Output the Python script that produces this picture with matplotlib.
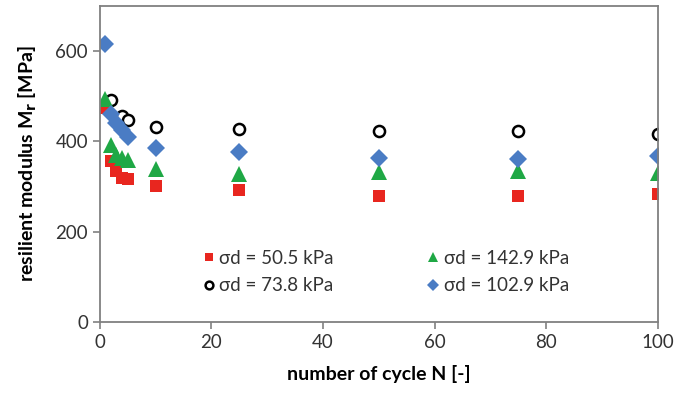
import matplotlib
matplotlib.use("Agg")
import matplotlib.pyplot as plt

plt.rcParams['font.family'] = ['Lato', 'DejaVu Sans']

N_all = [1, 2, 3, 4, 5, 10, 25, 50, 75, 100]
N_circ = [2, 4, 5, 10, 25, 50, 75, 100]

red_505 = [473, 356, 334, 319, 316, 301, 293, 280, 278, 284]
circ_738 = [491, 456, 447, 432, 428, 423, 423, 416]
green_1429 = [495, 393, 370, 363, 358, 338, 328, 333, 335, 331]
blue_1029 = [615, 460, 440, 425, 409, 386, 377, 364, 360, 367]

labels = ["σd = 50.5 kPa", "σd = 73.8 kPa", "σd = 142.9 kPa", "σd = 102.9 kPa"]

fig = plt.figure(figsize=(6.74, 3.97), dpi=100)
ax = fig.add_axes([0.148, 0.189, 0.828, 0.796])

ax.plot(N_all, red_505, linestyle='none', marker='s', markersize=8.5,
        color='#e8261f', markeredgewidth=0, label=labels[0])
ax.plot(N_circ, circ_738, linestyle='none', marker='o', markersize=8,
        markerfacecolor='white', markeredgecolor='black', markeredgewidth=1.8,
        label=labels[1])
ax.plot(N_all, green_1429, linestyle='none', marker='^', markersize=11,
        color='#1fa845', markeredgewidth=0, label=labels[2])
ax.plot(N_all, blue_1029, linestyle='none', marker='D', markersize=9,
        color='#4a7cc4', markeredgewidth=0, label=labels[3])

ax.set_xlim(0, 100)
ax.set_ylim(0, 700)
ax.set_xticks([0, 20, 40, 60, 80, 100])
ax.set_yticks([0, 200, 400, 600])

for s in ax.spines.values():
    s.set_color('#808080')
    s.set_linewidth(1.3)
ax.tick_params(direction='out', length=5, width=1.2, color='#808080',
               labelsize=13.5, labelcolor='#333333')

ax.set_xlabel("number of cycle N [-]", fontsize=14, fontweight='bold', labelpad=10)
ax.set_ylabel("resilient modulus M$_\\mathbf{r}$ [MPa]", fontsize=14,
              fontweight='bold', labelpad=12)

leg = ax.legend(ncol=2, frameon=False, loc='center', bbox_to_anchor=(0.51, 0.158),
                fontsize=13.5, handletextpad=0.05, columnspacing=4.8, labelspacing=0.55,
                handlelength=1.0, markerscale=0.7, labelcolor='#333333')

fig.savefig("out.png", dpi=100)
